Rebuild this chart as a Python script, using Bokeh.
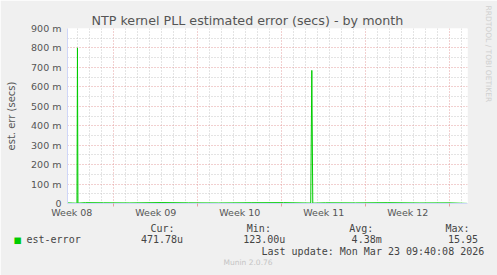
from bokeh.plotting import figure
from bokeh.models import FixedTicker, Range1d, Title
from bokeh.embed import file_html
from bokeh.resources import INLINE

# ---------------- data ----------------
title_text = "NTP kernel PLL estimated error (secs) - by month"
y_axis_title = "est. err (secs)"
series_name = "est-error"

# x positions are days since the start of the graph (graph spans 33.33 days)
week_labels = ["Week 08", "Week 09", "Week 10", "Week 11", "Week 12"]
week_label_days = [0.36, 7.36, 14.36, 21.36, 28.36]
week_start_days = [3.86, 10.86, 17.86, 24.86, 31.86]

# y ticks in milliseconds
y_ticks = [0, 100, 200, 300, 400, 500, 600, 700, 800, 900]
y_tick_labels = ["0", "100 m", "200 m", "300 m", "400 m", "500 m",
                 "600 m", "700 m", "800 m", "900 m"]

t_days = [0.00, 0.40, 0.79, 0.83, 0.87, 1.50, 3.00, 5.20, 7.80, 10.10, 12.60,
          15.30, 18.00, 20.27, 20.36, 20.44, 21.50, 24.00, 26.70, 29.30, 31.80, 33.30]
err_secs = [0.0031, 0.0024, 0.0012, 0.8003, 0.0019, 0.0042, 0.0036, 0.0028, 0.0047,
            0.0033, 0.0025, 0.0039, 0.0044, 0.0021, 0.6845, 0.0017, 0.0035, 0.0029,
            0.0041, 0.0026, 0.0032, 0.00047]

stat_headers = ["Cur:", "Min:", "Avg:", "Max:"]
stat_values = ["471.78u", "123.00u", "4.38m", "15.95"]
last_update = "Last update: Mon Mar 23 09:40:08 2026"
footer = "Munin 2.0.76"
side_text = "RRDTOOL / TOBI OETIKER"

# ---------------- layout / style ----------------
W, H = 497, 275
FL, FR, FT, FB = 67, 467, 28, 203   # frame edges in page pixels
BG = "#F0F0F0"
AXIS = "#CFD6F8"
MGRID = "#E4A0A0"
GRID = "#C8C8C8"
FONT = "#555555"
LFONT = "#444444"
GREEN = "#00CC00"
MONO = "DejaVu Sans Mono"
SANS = "DejaVu Sans"
NB = "\u00a0"
TH_MONO = 11.64     # text box height of 10px mono text
TH_SW = 9.9         # text box height of the swatch glyph
TH_FOOT = 8.73      # text box height of 7.5px sans text

p = figure(width=W, height=H, output_backend="svg", toolbar_location=None,
           x_range=Range1d(0, 400 / 12), y_range=Range1d(0, 900),
           min_border_left=FL, min_border_right=W - FR,
           min_border_top=FT, min_border_bottom=H - FB,
           background_fill_color="white", border_fill_color=BG,
           outline_line_color=None)

# title
p.title.text = title_text
p.title.align = "left"
p.title.offset = 24
p.title.standoff = 2
p.title.text_font = SANS
p.title.text_font_size = "12.7px"
p.title.text_font_style = "normal"
p.title.text_color = FONT

# grids
day_grid = [0.86 + k for k in range(33)]
day_grid = [d for d in day_grid if all(abs(d - w) > 0.01 for w in week_start_days)]
p.xgrid.ticker = FixedTicker(ticks=week_start_days, minor_ticks=day_grid)
p.xgrid.grid_line_color = MGRID
p.xgrid.grid_line_dash = "1 2"
p.xgrid.minor_grid_line_color = GRID
p.xgrid.minor_grid_line_dash = "1 2"

y_minor = [t + 50 for t in y_ticks[:-1]]
p.ygrid.ticker = FixedTicker(ticks=y_ticks[1:], minor_ticks=y_minor)
p.ygrid.grid_line_color = MGRID
p.ygrid.grid_line_dash = "1 2"
p.ygrid.minor_grid_line_color = GRID
p.ygrid.minor_grid_line_dash = "1 2"

# axes
xa = p.xaxis[0]
xa.ticker = FixedTicker(ticks=week_label_days, minor_ticks=week_start_days)
xa.major_label_overrides = dict(zip(week_label_days, week_labels))
xa.axis_line_color = AXIS
xa.major_tick_line_color = None
xa.minor_tick_line_color = MGRID
xa.minor_tick_in = 0
xa.minor_tick_out = 3
xa.major_tick_out = 0
xa.major_tick_in = 0
xa.major_label_standoff = 0
xa.major_label_text_font = SANS
xa.major_label_text_font_size = "9.5px"
xa.major_label_text_color = FONT

ya = p.yaxis[0]
ya.ticker = FixedTicker(ticks=y_ticks)
ya.major_label_overrides = dict(zip(y_ticks, y_tick_labels))
ya.axis_line_color = AXIS
ya.major_tick_line_color = None
ya.minor_tick_line_color = None
ya.major_tick_out = 0
ya.major_tick_in = 0
ya.major_label_standoff = 6
ya.major_label_text_font = SANS
ya.major_label_text_font_size = "9.5px"
ya.major_label_text_color = FONT
ya.axis_label = y_axis_title
ya.axis_label_standoff = 11
ya.axis_label_text_font = SANS
ya.axis_label_text_font_size = "10px"
ya.axis_label_text_font_style = "normal"
ya.axis_label_text_color = FONT

# data line
p.line(t_days, [v * 1000 for v in err_secs], line_color=GREEN, line_width=1)


# ---------------- text block under the chart ----------------
def columns(parts, cols, start_text=""):
    s = start_text
    pos = len(start_text)
    for c, t in zip(cols, parts):
        s += NB * max(c - pos, 1) + t
        pos = max(c, pos + 1) + len(t)
    return s


header_row = columns(stat_headers[1:], [16, 33, 49], start_text=stat_headers[0])
value_row = columns(stat_values, [19, 36, 54, 70], start_text=series_name)


def side_title(side, text, px, size, font, color, h, valign, th):
    p.add_layout(Title(text=text, align="left", offset=px,
                       standoff=h - 2 - th, vertical_align=valign,
                       text_font=font, text_font_size=size,
                       text_font_style="normal", text_color=color), side)


# (text, left px offset, font size, font, colour, slot height, vertical align, text height)
side_title("below", header_row, 150 - FL, "10px", MONO, LFONT, 18, "top", TH_MONO)
side_title("below", NB, 0, "10px", MONO, LFONT, 3, "middle", TH_MONO)          # spacer
side_title("below", "\u25a0", 13 - FL, "8.5px", SANS, GREEN, 0, "middle", TH_SW)
side_title("below", value_row, 26 - FL, "10px", MONO, LFONT, 0, "middle", TH_MONO)
side_title("below", last_update, 261 - FL, "10px", MONO, LFONT, 24, "middle", TH_MONO)
side_title("below", footer, 223 - FL, "7.5px", SANS, "#C4C4C4", 0, "middle", TH_FOOT)

side_title("right", NB, 0, "7.5px", SANS, "#CFCFCF", 21, "middle", TH_FOOT)    # spacer
side_title("right", side_text, 5 - FT, "7.5px", SANS, "#CFCFCF", 0, "middle", TH_FOOT)

open("out.html", "w").write(file_html(p, INLINE))
